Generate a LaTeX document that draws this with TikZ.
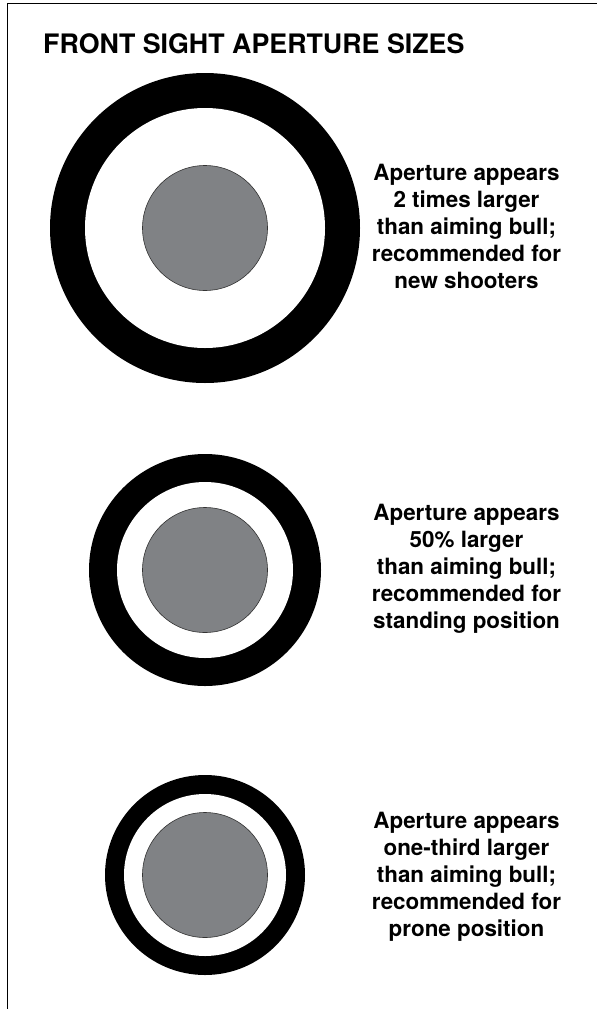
\documentclass[tikz,border=0pt]{standalone}
\usepackage{fontspec}
\setmainfont{TeX Gyre Heros}
\definecolor{bullgray}{RGB}{128,130,133}
\begin{document}
\begin{tikzpicture}[x=1pt,y=-1pt,
  ring/.style={circle,fill=black,inner sep=0pt,draw=none},
  gap/.style={circle,fill=white,inner sep=0pt,draw=none},
  bull/.style={circle,fill=bullgray,draw=black!80,line width=0.6pt,inner sep=0pt,minimum size=125pt},
  caption/.style={align=center,inner sep=0pt,anchor=north,font=\bfseries\fontsize{22.4}{26.9}\selectfont},
  frame/.style={line width=1.8pt,black}]
\useasboundingbox (0,0) rectangle (597,1009);
\draw[frame] (7.5,1009) -- (7.5,3.5) -- (597,3.5);
\node[anchor=base west,inner sep=0pt,font=\bfseries\fontsize{26.8}{30}\selectfont] (title) at (43,53) {FRONT SIGHT APERTURE SIZES};
% aperture 1
\node[ring,minimum size=310pt] (o1) at (205,228) {};
\node[gap,minimum size=240pt] (w1) at (o1.center) {};
\node[bull] (b1) at (o1.center) {};
\node[caption] (t1) at (466.5,164) {Aperture appears\\2 times larger\\than aiming bull;\\recommended for\\new shooters};
% aperture 2
\node[ring,minimum size=232pt] (o2) at (205,570) {};
\node[gap,minimum size=176pt] (w2) at (o2.center) {};
\node[bull] (b2) at (o2.center) {};
\node[caption] (t2) at (466.5,504) {Aperture appears\\50\% larger\\than aiming bull;\\recommended for\\standing position};
% aperture 3
\node[ring,minimum size=200pt] (o3) at (205,875) {};
\node[gap,minimum size=162pt] (w3) at (o3.center) {};
\node[bull] (b3) at (o3.center) {};
\node[caption] (t3) at (466.5,812) {Aperture appears\\one-third larger\\than aiming bull;\\recommended for\\prone position};
\end{tikzpicture}
\end{document}
